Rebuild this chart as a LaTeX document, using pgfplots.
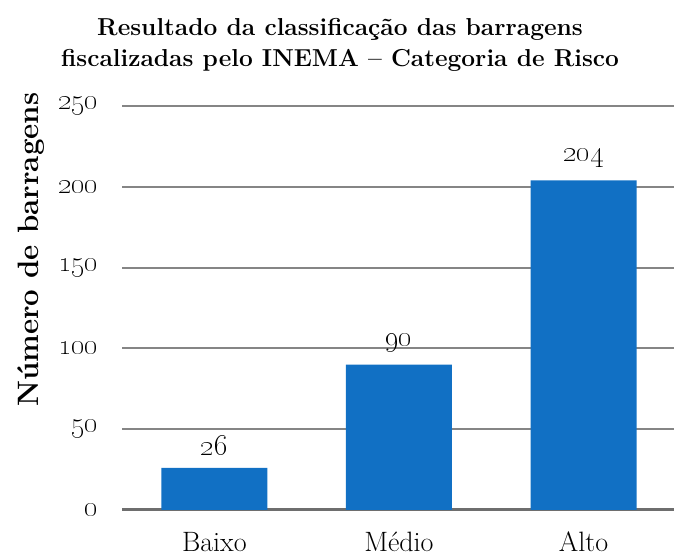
\documentclass[border=0pt]{standalone}
\usepackage{pgfplots}
\pgfplotsset{compat=1.18}
\usepackage{pgfplotstable}
\definecolor{barblue}{HTML}{1170C4}
\definecolor{gridgray}{HTML}{858585}
\definecolor{axgray}{HTML}{6E6E6E}
\pgfplotstableread{
x y lab
0 26 26
1 90 90
2 204 204
}\datatab
\begin{document}
\begin{tikzpicture}
\path[use as bounding box] (0pt,0pt) rectangle (674pt,556pt);
\begin{axis}[
  at={(122pt,46pt)}, anchor=south west,
  scale only axis, width=552pt, height=404pt,
  xmin=-0.5, xmax=2.49, ymin=0, ymax=250,
  axis y line*=left, axis x line*=bottom,
  y axis line style={draw=none},
  x axis line style={axgray, line width=3pt, -},
  xtick={0,1,2}, xticklabels={Baixo,Médio,Alto},
  ytick={0,50,100,150,200,250},
  yticklabels={\oldstylenums{0},\oldstylenums{50},\oldstylenums{100},\oldstylenums{150},\oldstylenums{200},\oldstylenums{250}},
  major tick length=0pt,
  ymajorgrids, major grid style={gridgray, line width=2pt},
  tick label style={font=\fontsize{28}{32}\selectfont},
  yticklabel style={anchor=east, xshift=-20pt, font=\fontsize{32}{34}\selectfont},
  xticklabel style={anchor=base, yshift=-42pt},
  ylabel={\textbf{Número de barragens}},
  ylabel style={font=\fontsize{29.5}{34}\selectfont, at={(rel axis cs:-0.165,0.644)}, anchor=center},
  title={\textbf{Resultado da classificação das barragens}\\\textbf{fiscalizadas pelo INEMA -- Categoria de Risco}},
  title style={font=\fontsize{24.5}{31}\selectfont, align=center, at={(rel axis cs:0.395,1)}, anchor=south, yshift=25pt},
  clip=false,
]
\addplot[ybar, bar width=106pt, fill=barblue, draw=none,
  point meta=explicit symbolic,
  nodes near coords={\oldstylenums{\pgfplotspointmeta}},
  nodes near coords style={font=\fontsize{31}{34}\selectfont, anchor=south, yshift=9pt}]
  table[x=x, y=y, meta=lab] {\datatab};
\end{axis}
\end{tikzpicture}
\end{document}
